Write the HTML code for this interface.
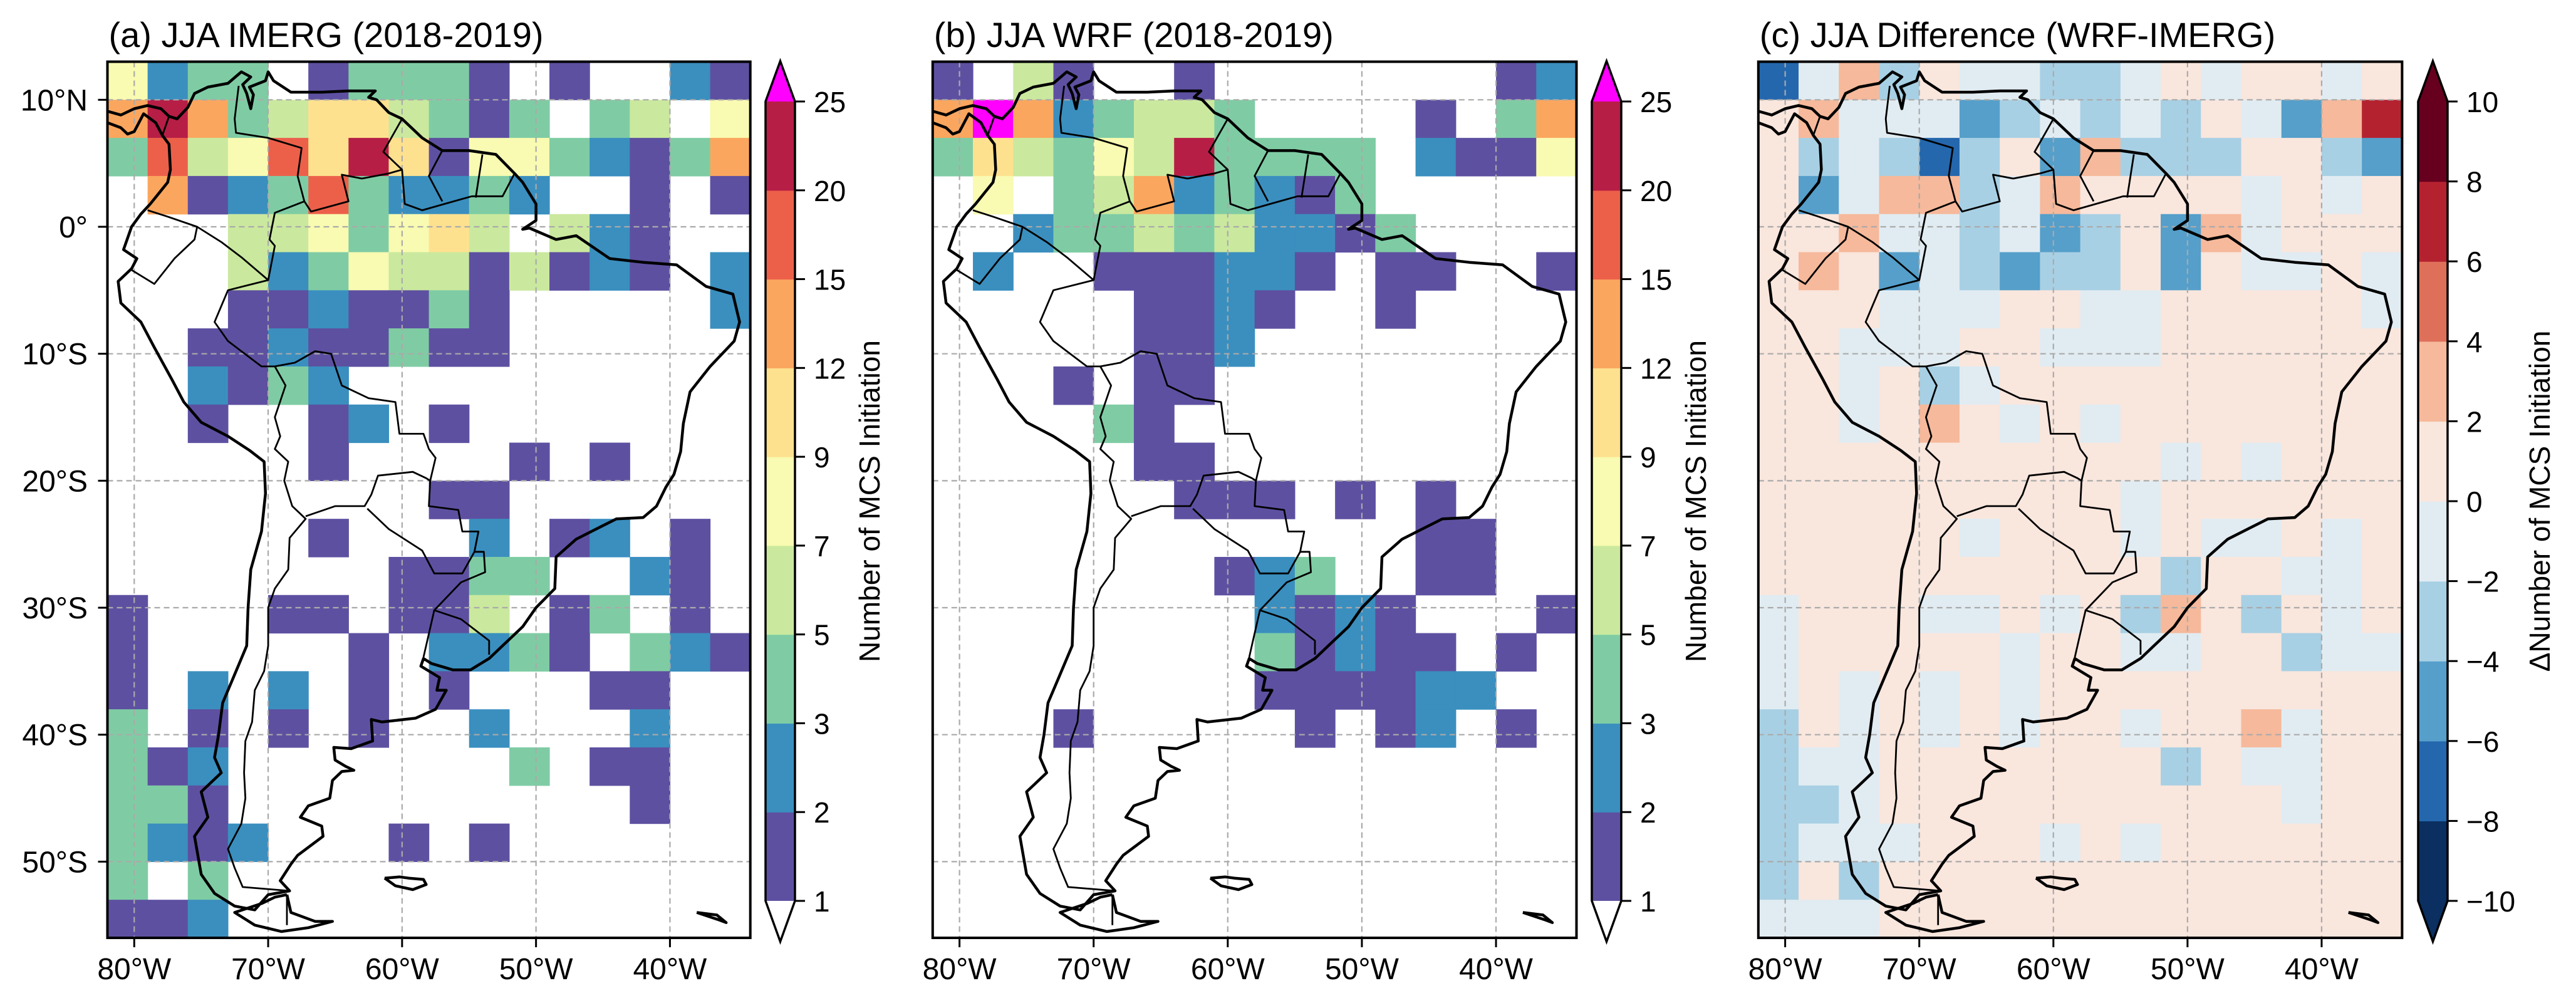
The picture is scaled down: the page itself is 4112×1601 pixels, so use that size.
<!DOCTYPE html>
<html><head><meta charset="utf-8"><style>
html,body{margin:0;padding:0;background:#fff;}
svg{display:block;font-family:"Liberation Sans",Arial,sans-serif;}
</style></head><body>
<svg id="fig" xmlns="http://www.w3.org/2000/svg" width="4112" height="1601" viewBox="0 0 4112 1601"></svg>
<script>
// ---- data ----
const lonTicks = [-80, -70, -60, -50, -40];
const latTicks = [10, 0, -10, -20, -30, -40, -50];
const lonEdges = [-82, -34];
const latEdges = [13, -56];
const cellDeg = 3;
const countLevels = ['1','2','3','5','7','9','12','15','20','25'];
const diffLevels = ['\u221210','\u22128','\u22126','\u22124','\u22122','0','2','4','6','8','10'];
const countColors = {'1':'#5e50a1','2':'#3a8fbf','3':'#7fcca4','4':'#cae99e','5':'#f8fbb1','6':'#fee18f','7':'#fba65e','8':'#ec604a','9':'#b61e46','M':'#ff00ff'};
const diffColors = ['#0a2f60','#2467ad','#559fca','#a8d0e4','#e1ecf2','#f9e6dd','#f6b99b','#de6f59','#b5222f','#67001f'];
const gridA = [
"5233013331010021","7973466431303405","3845869615532137","0712383223200101",
"0004453564042100","0004235441412102","0001121131000002","0011211311000000",
"0021320000000000","0010012010000000","0000010000101000","0000000011000000",
"0000010002012010","0000000113300210","1000110114013010","1000001022310321",
"1020201010001100","3010101002000200","3120000000301100","3310000000000100",
"3212000101000000","3030000000000000","1120000000000000"];
const gridB = [
"1041001000000012","7M72344300001037","3643549333302115","0503472321300000",
"0023343422130000","0200111221011001","0000011210010000","0000011200000000",
"0001011000000000","0000310000000000","0000011000000000","0000001110101000",
"0000000000001100","0000000123001100","0000000021210001","0000000031211010",
"0000000011112200","0001000001012010","0000000000000000","0000000000000000",
"0000000000000000","0000000000000000","0000000000000000"];
const gridC = [
"1463544334545545","5644423434354268","5343135263335532","5246634655554545",
"5564434235264555","5652432335254454","5554445544555554","5544455444555555",
"5545345555555555","5545654545555555","5555555555454555","5555555554555555",
"5555545554544545","5555555555355445","4555445453653545","4555554554455344",
"4545454555555555","3545454554556455","3445555555354455","3345555555555455",
"3444555454555555","3535555555555555","4445555555555555"];
// coastline (lon,lat)
const coastMain = [[-83,9.3],[-82,9.1],[-81,8.8],[-80,9.3],[-79,9.55],[-78,9.3],[-77.4,8.7],[-76.8,8.5],[-76,9.4],[-75.5,10.5],[-74.5,11],[-73,11.3],[-72,12.2],[-71.3,11.8],[-71.9,11.2],[-71.6,10.5],[-71.3,9.3],[-71.1,10.4],[-71.4,11.0],[-70.2,11.5],[-70,12.2],[-69.6,11.5],[-68.3,10.6],[-66,10.6],[-64,10.7],[-62,10.7],[-62.5,10.2],[-61.9,10.0],[-61,9.0],[-60,8.5],[-58.5,7],[-57,6],[-55,6],[-53,5.7],[-51.6,4.2],[-51,3.5],[-50,1.8],[-50,0.5],[-51,-0.2],[-50.5,-0.1],[-48.5,-1],[-47,-0.7],[-44.5,-2.5],[-42,-2.8],[-39.5,-3],[-37.3,-4.7],[-35.3,-5.3],[-34.8,-7.5],[-35.2,-9],[-37,-11],[-38.5,-13],[-39,-15.5],[-39.2,-17.7],[-39.7,-19.5],[-40.3,-20.5],[-41,-22],[-42,-22.9],[-44,-23],[-45.5,-23.8],[-47,-24.6],[-48.5,-26],[-48.6,-28.5],[-50,-30],[-51,-31.5],[-52.5,-33],[-53.5,-34],[-54.9,-34.9],[-56.2,-34.9],[-57.8,-34.4],[-58.4,-34],[-58.6,-34.6],[-57.2,-35.5],[-57.4,-36.5],[-56.7,-36.5],[-57.5,-38],[-59,-38.7],[-61.5,-39],[-62.3,-38.8],[-62.2,-40.5],[-63.8,-41.1],[-65.1,-41],[-65,-42],[-64.2,-42.5],[-63.6,-42.8],[-64.5,-42.9],[-65.2,-43.6],[-65.4,-45],[-67,-45.6],[-67.6,-46.5],[-66,-47.2],[-65.9,-48],[-67.8,-49.5],[-68.3,-50.2],[-69.1,-51.5],[-68.4,-52.3],[-70,-52.6],[-71,-53.8],[-72.5,-53.5],[-74,-52.5],[-75,-51],[-75.5,-48],[-74.5,-46.5],[-75,-44.5],[-73.5,-43],[-74,-41.8],[-73.7,-40],[-73.4,-37.5],[-72.6,-35.5],[-71.6,-33],[-71.5,-30],[-71.3,-27],[-70.5,-24],[-70.2,-21],[-70.3,-18.5],[-71.4,-17.6],[-73,-16.5],[-75,-15.4],[-76.3,-13.8],[-77.2,-12],[-78.5,-9.5],[-79.5,-7.5],[-81,-6],[-81.2,-4.3],[-80.2,-3.3],[-79.8,-2.5],[-80.8,-1.8],[-80.2,0],[-79.5,1],[-78.8,1.8],[-77.5,3.5],[-77.3,4.5],[-77.4,6.5],[-77.9,7.2],[-78.4,8.2],[-79.3,8.9],[-80,7.5],[-80.5,7.3],[-81,7.8],[-82,8.2],[-83,8.3]];
const coastTdF = [[-68.6,-52.6],[-68.3,-54],[-66.5,-54.7],[-65.2,-54.7],[-67,-55.2],[-69,-55.5],[-71,-55],[-72.5,-54],[-70.5,-53.3],[-69.5,-52.8],[-68.6,-52.6]];
const coastFalk = [[-61.3,-51.3],[-60.2,-51.2],[-59.5,-51.3],[-58.4,-51.4],[-58.2,-51.8],[-59.2,-52.2],[-60.5,-51.9],[-61.3,-51.3]];
const coastSG = [[-38,-54],[-36.5,-54.2],[-35.8,-54.8],[-36.3,-54.6],[-38,-54]];
const borders = [
 [[-51.6,4.2],[-52.5,2.4],[-54.8,2.4],[-56.5,1.9],[-58.5,1.3],[-59.8,1.8],[-60,4.5],[-61,4.2],[-63,3.8],[-64.5,4.1],[-64,2],[-66.8,1.2],[-67.3,2.0],[-69.5,1.1],[-69.9,-1],[-69.5,-1.5],[-70,-4.2],[-73,-5],[-74,-7.5],[-73,-9],[-70.5,-11],[-69.5,-11],[-68,-10.7],[-66.5,-9.8],[-65.3,-10],[-64.5,-12.5],[-62.5,-13.5],[-60.5,-13.8],[-60.2,-16.3],[-58.4,-16.3],[-58,-17.5],[-57.5,-18.2],[-57.9,-20],[-58,-22],[-55.8,-22.3],[-55.5,-24],[-54.3,-24],[-54.6,-25.6],[-53.9,-25.6],[-53.8,-27.2],[-55.6,-28],[-57.6,-30.2],[-55.6,-30.9],[-53.5,-32.6],[-53.5,-33.7]],
 [[-79,1.3],[-77.5,0.8],[-75.3,0],[-73.5,-1.2],[-72,-2.4],[-70,-4.2]],
 [[-80.2,-3.4],[-78.5,-4.5],[-77,-2.5],[-75.5,-1],[-75.3,0]],
 [[-69.5,-11],[-68.7,-12.5],[-69.5,-15],[-69.1,-16.5],[-69.5,-17.5],[-68.5,-18.5],[-68.8,-20],[-68.2,-22],[-67.2,-23],[-68.4,-24.5],[-68.5,-27],[-69.5,-28.5],[-70,-30],[-70,-33],[-70.3,-35],[-71,-36.5],[-71.2,-39],[-71.7,-40.5],[-71.8,-43],[-71.7,-45],[-72,-47],[-73,-49],[-72.5,-50.5],[-71.9,-52],[-68.4,-52.3]],
 [[-67.2,-22.8],[-65,-22],[-62.8,-22],[-62.3,-21.1],[-61.8,-19.6],[-59.2,-19.3],[-58.2,-19.8],[-57.9,-20]],
 [[-62.6,-22.2],[-61,-23.8],[-58.5,-25.5],[-57.6,-27.3],[-55.5,-27.3],[-54.6,-25.6]],
 [[-58.4,-33.9],[-58.1,-32.5],[-57.6,-30.2]],
 [[-60,8.5],[-61.4,5.9],[-60.7,5.2],[-60,4.5]],
 [[-57,6],[-58,4],[-57,2]],[[-54,5.7],[-54.5,2.3]],
 [[-72.2,11.1],[-72.5,8.5],[-72.4,7.4],[-70,7],[-67.5,6.2],[-67.8,4],[-67.3,2]],
 [[-77.4,8.7],[-77.9,7.2]],[[-68.6,-52.6],[-68.6,-55]]
];
// ---- layout ----
const NS='http://www.w3.org/2000/svg';
const svg=document.getElementById('fig');
const TOP=98.5, BOT=1497;
const panels=[
 {id:'a',left:171.5,right:1197.7,grid:gridA,title:'(a) JJA IMERG (2018-2019)',kind:'count',cb:1222,cbLabel:'Number of MCS Initiation'},
 {id:'b',left:1488.8,right:2516.5,grid:gridB,title:'(b) JJA WRF (2018-2019)',kind:'count',cb:2541,cbLabel:'Number of MCS Initiation'},
 {id:'c',left:2806.8,right:3834.4,grid:gridC,title:'(c) JJA Difference (WRF-IMERG)',kind:'diff',cb:3860,cbLabel:'\u0394Number of MCS Initiation'}
];
function el(tag,attrs,parent){const e=document.createElementNS(NS,tag);for(const k in attrs)e.setAttribute(k,attrs[k]);(parent||svg).appendChild(e);return e;}
const defs=el('defs',{});
panels.forEach(p=>{
 const W=p.right-p.left,H=BOT-TOP;
 const xS=lon=>p.left+(lon-lonEdges[0])/(lonEdges[1]-lonEdges[0])*W;
 const yS=lat=>TOP+(latEdges[0]-lat)/(latEdges[0]-latEdges[1])*H;
 const cp=el('clipPath',{id:'clip-'+p.id},defs);el('rect',{x:p.left,y:TOP,width:W,height:H},cp);
 const g=el('g',{'clip-path':'url(#clip-'+p.id+')'});
 
 
 p.grid.forEach((row,r)=>{for(let c=0;c<row.length;c++){const ch=row[c];let col=null;
  if(p.kind==='count'){if(ch!=='0')col=countColors[ch];}else{col=diffColors[+ch];}
  if(!col)continue;
  const lon0=lonEdges[0]+c*cellDeg, lat0=latEdges[0]-r*cellDeg;
  const x0=xS(lon0),x1=xS(lon0+cellDeg),y0=yS(lat0),y1=yS(lat0-cellDeg);
  const rc=el('rect',{x:x0,y:y0,width:x1-x0+0.6,height:y1-y0+0.6,fill:col},g);
  
  
 }});
 lonTicks.forEach(l=>{const ln=el('line',{x1:xS(l),x2:xS(l),y1:TOP,y2:BOT,stroke:'#aaa','stroke-width':2.2,'stroke-dasharray':'9,6'},g);
  });
 latTicks.forEach(l=>{const ln=el('line',{x1:p.left,x2:p.right,y1:yS(l),y2:yS(l),stroke:'#aaa','stroke-width':2.2,'stroke-dasharray':'9,6'},g);
  });
 const toPts=a=>a.map(q=>xS(q[0]).toFixed(1)+','+yS(q[1]).toFixed(1)).join(' ');
 [coastMain,coastTdF,coastFalk,coastSG].forEach(cst=>{const pl=el('polyline',{points:toPts(cst),fill:'none',stroke:'#000','stroke-width':4.5,'stroke-linejoin':'round'},g);
  });
 borders.forEach(b=>{const pl=el('polyline',{points:toPts(b),fill:'none',stroke:'#000','stroke-width':2.8,'stroke-linejoin':'round'},g);
  });
 const fr=el('rect',{x:p.left,y:TOP,width:W,height:H,fill:'none',stroke:'#000','stroke-width':4});
 
 const t=el('text',{x:p.left+2,y:75,'font-size':56,fill:'#000'});t.textContent=p.title;
 
 lonTicks.forEach(l=>{el('line',{x1:xS(l),x2:xS(l),y1:BOT,y2:BOT+15,stroke:'#000','stroke-width':3});
  const tx=el('text',{x:xS(l),y:1563,'font-size':48,'text-anchor':'middle'});tx.textContent=Math.abs(l)+'\u00b0W';
  });
 if(p.id==='a'){latTicks.forEach(l=>{el('line',{x1:p.left-15,x2:p.left,y1:yS(l),y2:yS(l),stroke:'#000','stroke-width':3});
  const ty=el('text',{x:140,y:yS(l)+17,'font-size':48,'text-anchor':'end'});
  ty.textContent=l===0?'0\u00b0':Math.abs(l)+'\u00b0'+(l>0?'N':'S');
  });}
 const cbx=p.cb,cbw=47,cbT=162,cbB=1438,mid=cbx+cbw/2;
 const cbg=el('g',{});
 
 const labels=p.kind==='count'?countLevels:diffLevels;
 const n=labels.length-1,step=(cbB-cbT)/n;
 const cols=p.kind==='count'?['1','2','3','4','5','6','7','8','9'].map(k=>countColors[k]):diffColors;
 for(let i=0;i<n;i++){el('rect',{x:cbx,y:cbB-(i+1)*step,width:cbw,height:step+0.6,fill:cols[i]},cbg);}
 const topCol=p.kind==='count'?'#ff00ff':diffColors[9], botCol=p.kind==='count'?'#ffffff':diffColors[0];
 el('polygon',{points:`${cbx},${cbT} ${mid},97.5 ${cbx+cbw},${cbT}`,fill:topCol},cbg);
 el('polygon',{points:`${cbx},${cbB} ${mid},1503 ${cbx+cbw},${cbB}`,fill:botCol},cbg);
 el('polygon',{points:`${cbx},${cbT} ${mid},97.5 ${cbx+cbw},${cbT} ${cbx+cbw},${cbB} ${mid},1503 ${cbx},${cbB}`,fill:'none',stroke:'#000','stroke-width':3.5},cbg);
 labels.forEach((lb,i)=>{const y=cbB-i*step;el('line',{x1:cbx+cbw,x2:cbx+cbw+16,y1:y,y2:y,stroke:'#000','stroke-width':3},cbg);
  const tt=el('text',{x:cbx+cbw+30,y:y+17,'font-size':46},cbg);tt.textContent=lb;
  });
 const lx=p.kind==='count'?cbx+182:cbx+210;
 const cl=el('text',{x:lx,y:800,'font-size':46,'text-anchor':'middle',transform:`rotate(-90 ${lx} 800)`});
 cl.textContent=p.cbLabel;
 
});
</script>
</body></html>
